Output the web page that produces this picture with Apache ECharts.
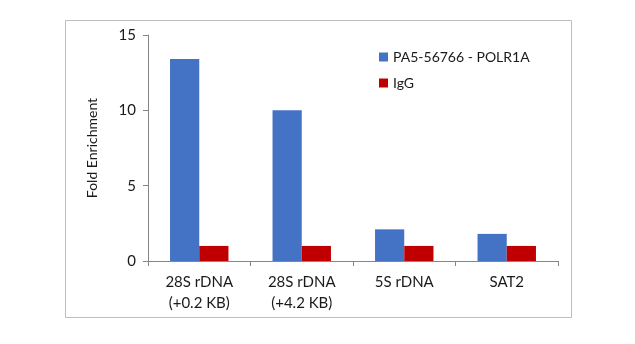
<!DOCTYPE html>
<html><head><meta charset="utf-8">
<script src="https://cdn.jsdelivr.net/npm/echarts@6/dist/echarts.min.js"></script>
<style>html,body{margin:0;padding:0;background:#fff}#c{width:635px;height:344px}</style>
</head><body><div id="c"></div>
<script>
var categories = ['28S rDNA\n(+0.2 KB)', '28S rDNA\n(+4.2 KB)', '5S rDNA', 'SAT2'];
var seriesNames = ['PA5-56766 - POLR1A', 'IgG'];
var polr1a = [13.4, 10.0, 2.1, 1.8];
var igg = [1.0, 1.0, 1.0, 1.0];
var yTicks = [0, 5, 10, 15];

var font = 'Lato, "Open Sans", sans-serif';
var chart = echarts.init(document.getElementById('c'));
chart.setOption({
  animation: false,
  graphic: [{type:'rect', shape:{x:65.5,y:20.5,width:506,height:297}, style:{fill:'none',stroke:'#bdbdbd',lineWidth:1}}],
  grid: {left:148, right:77, top:35, bottom:83, containLabel:false},
  legend: {
    orient:'vertical', left:374, top:45, itemWidth:9, itemHeight:9, itemGap:12,
    icon:'rect', textStyle:{fontFamily:font, fontSize:14, color:'#1a1a1a'},
    data: seriesNames
  },
  xAxis: {
    type:'category', data: categories,
    axisLine:{lineStyle:{color:'#868686'}},
    axisTick:{show:true, length:5, lineStyle:{color:'#868686'}},
    axisLabel:{fontFamily:font, fontSize:15, color:'#1a1a1a', margin:11, lineHeight:21, interval:0}
  },
  yAxis: {
    type:'value', min:0, max:15, interval:5,
    name:'Fold Enrichment', nameLocation:'middle', nameGap:49, nameRotate:90,
    nameTextStyle:{fontFamily:font, fontSize:14, color:'#1a1a1a'},
    axisLine:{show:true, lineStyle:{color:'#868686'}},
    axisTick:{show:true, length:5, lineStyle:{color:'#868686'}},
    splitLine:{show:false},
    axisLabel:{fontFamily:font, fontSize:15, color:'#1a1a1a', margin:12,
      formatter: function(v){ return yTicks.indexOf(v) >= 0 ? String(v) : ''; }}
  },
  series: [
    {name:seriesNames[0], type:'bar', data:polr1a, itemStyle:{color:'#4472C4'}, barGap:'0%', barCategoryGap:'43%'},
    {name:seriesNames[1], type:'bar', data:igg, itemStyle:{color:'#C00000'}, barGap:'0%', barCategoryGap:'43%'}
  ]
});
</script></body></html>
